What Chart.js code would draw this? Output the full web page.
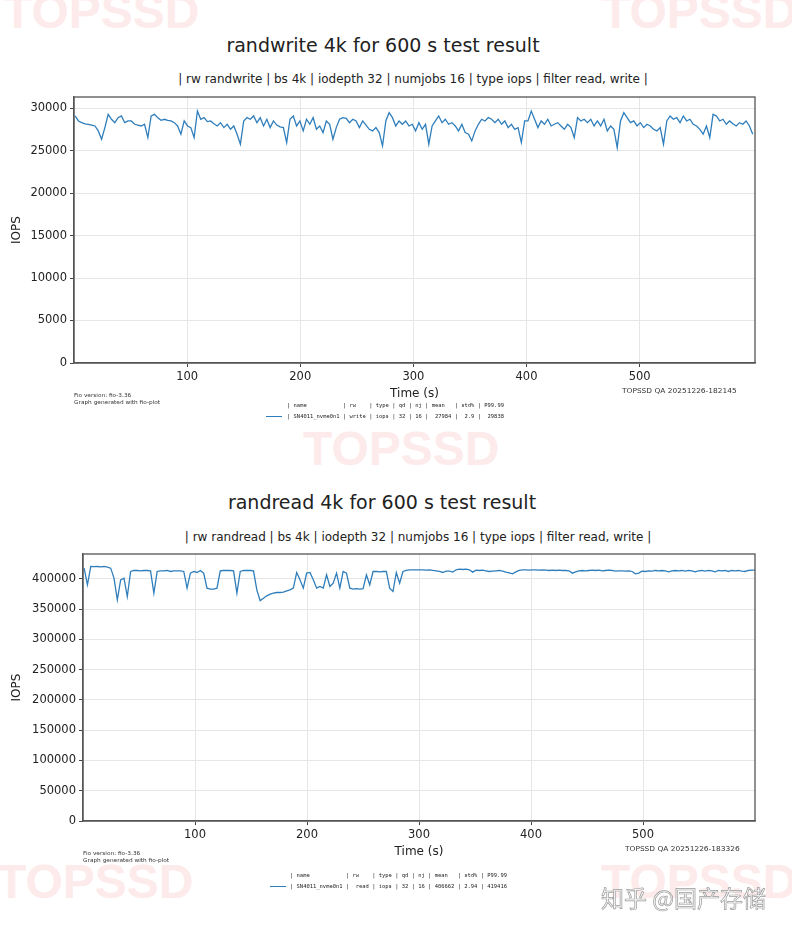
<!DOCTYPE html>
<html>
<head>
<meta charset="utf-8">
<script src="https://cdn.jsdelivr.net/npm/chart.js@4"></script>
<style>
  body { margin: 0; background: #fff; width: 792px; height: 931px; overflow: hidden; position: relative; font-family: "DejaVu Sans", sans-serif; color: #222; }
  .wm { position: absolute; font-family: "Liberation Sans", sans-serif; font-weight: bold; font-size: 48px; line-height: 1; color: #fdebeb; }
  .title { position: absolute; font-size: 19px; transform: translate(-50%, -50%); white-space: pre; }
  .sub { position: absolute; font-size: 12px; transform: translate(-50%, -50%); white-space: pre; }
  .tiny { position: absolute; white-space: pre; font-size: 10px; line-height: 12px; transform: scale(0.58); transform-origin: 0 0; color: #333; }
  .stamp { position: absolute; white-space: pre; font-size: 12px; transform: scale(0.62); transform-origin: 0 0; color: #333; }
  .leg { position: absolute; white-space: pre; font-family: "DejaVu Sans Mono", monospace; font-size: 10px; line-height: 20px; transform: scale(0.546); transform-origin: 0 0; color: #222; }
  .dash { position: absolute; height: 1.4px; width: 16px; background: #2f7ebc; }
  canvas { position: absolute; left: 0; }
  .zh { position: absolute; font-family: "Noto Sans CJK SC", sans-serif; font-size: 23px; color: #fafafa; -webkit-text-stroke: 0.7px #9a9a9a; white-space: pre; }
</style>
</head>
<body>
<div class="wm" style="left:3px; top:-12px;">TOPSSD</div>
<div class="wm" style="left:601px; top:-12px;">TOPSSD</div>
<div class="wm" style="left:303px; top:425px;">TOPSSD</div>
<div class="wm" style="left:-3px; top:858px;">TOPSSD</div>
<div class="wm" style="left:601px; top:858px;">TOPSSD</div>

<div class="title" style="left:383px; top:45px;">randwrite 4k for 600 s test result</div>
<div class="sub" style="left:413px; top:79px;">| rw randwrite | bs 4k | iodepth 32 | numjobs 16 | type iops | filter read, write |</div>
<canvas id="graficoEscrita" width="792" height="320" style="top:90px;"></canvas>
<div class="tiny" style="left:74px; top:392px;">Fio version: fio-3.36
Graph generated with fio-plot</div>
<div class="stamp" style="left:622px; top:386px;">TOPSSD QA 20251226-182145</div>
<div class="dash" style="left:266px; top:415.5px;"></div>
<div class="leg" style="left:287px; top:400px;">| name           | rw    | type | qd | nj | mean   | std% | P99.99
| SN4011_nvme0n1 | write | iops | 32 | 16 |  27984 |  2.9 |  29838</div>

<div class="title" style="left:382px; top:502px;">randread 4k for 600 s test result</div>
<div class="sub" style="left:418px; top:537px;">| rw randread | bs 4k | iodepth 32 | numjobs 16 | type iops | filter read, write |</div>
<canvas id="graficoLeitura" width="792" height="320" style="top:548px;"></canvas>
<div class="tiny" style="left:83px; top:850px;">Fio version: fio-3.36
Graph generated with fio-plot</div>
<div class="stamp" style="left:625px; top:844px;">TOPSSD QA 20251226-183326</div>
<div class="dash" style="left:270px; top:885.5px;"></div>
<div class="leg" style="left:290px; top:870px;">| name           | rw    | type | qd | nj | mean   | std% | P99.99
| SN4011_nvme0n1 |  read | iops | 32 | 16 | 406662 | 2.94 | 419416</div>

<div class="zh" style="left:601px; top:880px;">知乎 @国产存储</div>

<script>
// Leituras de IOPS (amostras a cada ~3 s)
const iopsEscrita = [
    29070, 28480, 28280, 28150, 28090, 28000, 27890, 27310, 26330, 27700,
    29260, 28680, 28280, 28870, 29070, 28280, 28480, 28480, 28090, 28000,
    27890, 28090, 26530, 29070, 29260, 28870, 28560, 28680, 28560, 28480,
    28280, 27890, 26920, 28480, 27890, 27700, 26530, 29650, 28680, 28870,
    28400, 28480, 28150, 27890, 28280, 27700, 28090, 27500, 27890, 26920,
    25750, 28480, 28870, 28680, 29070, 28280, 28870, 27890, 28680, 27700,
    28480, 28000, 27780, 27700, 25940, 28680, 29070, 27890,
    28480, 27310, 28680, 28090, 28870, 27500, 27890, 27110, 28480, 28090,
    26330, 27700, 28680, 28870, 28800, 28280, 28680, 28480, 27700, 28480,
    28000, 27500, 27310, 27700, 27110, 25550, 28480, 29460, 28870, 27890,
    28480, 28090, 28480, 27890, 28090, 27310, 28280, 27500, 28090, 25750,
    27890, 28480, 29070, 28280, 28680, 28090, 28280, 27890, 27310, 28090,
    27110, 26920, 26140, 27310, 28090, 28680, 28480, 28870, 28680, 28280,
    28680, 28090, 28480, 27700, 28090, 27500, 27700, 25940, 28480,
    28480, 29650, 28680, 27700, 28480, 28090, 28680, 27890, 28090, 28280,
    27890, 27500, 28090, 27700, 26530, 28870, 28480, 28680, 28280, 28680,
    27890, 28480, 27890, 28680, 27310, 27890, 27500, 25350, 28480, 29460,
    28870, 28280, 28480, 27890, 28280, 27700, 28090, 27890, 27500, 27310,
    27700, 25750, 28480, 29070, 28680, 28870, 28280, 29070, 28480, 28680,
    28090, 27890, 27500, 26920, 27890, 26530, 29260, 29070, 28480, 28680,
    28090, 28480, 28150, 27890, 28280, 28090, 28480, 27890, 26920
];

const iopsLeitura = [
    417630, 390080, 420380, 420000, 420380, 419800, 420380, 419300, 417630, 401100,
    365290, 398350, 401100, 370800, 412120, 413780, 413780, 413230, 413780, 413780,
    413230, 376310, 412120, 413230, 413230, 413780, 412120, 413230, 413230, 413230,
    412120, 384570, 409370, 412120, 410470, 413780, 409370, 384570, 382920, 382920,
    384570, 413230, 413780, 413780, 413780, 413230, 376310, 412120, 413780, 413780,
    413780, 413230, 381820, 364000, 368050, 371900, 374650, 376310, 377400, 377400,
    378000, 380200, 381820, 384570, 410470, 398350, 384570, 409370, 410470, 398350,
    384570, 387330, 384570, 406610, 387330, 392840, 409370, 384570, 412120, 409370,
    384570, 382920, 383800, 382920, 383800, 406610, 390080, 412120, 412120, 411570,
    412120, 412120, 384570, 379060, 410470, 392840, 412120, 413780, 414880, 414880,
    414880, 414880,
    414880, 414330, 414880, 413780, 413230, 412120, 410470, 412670, 412670, 411020,
    414880, 415980, 415430, 415980, 414880, 411020, 414330, 413780, 414330, 413230,
    412120, 412670, 413230, 413780, 412670, 411020, 409920, 408270, 411570, 413780,
    414880, 414880, 414330, 414880, 414880, 414330, 414880, 414330, 413780, 414330,
    413780, 414330, 413780, 413780, 413230, 409370, 411570, 413230, 413780, 413230,
    413780, 414330, 413780, 414330, 413230, 413780, 414330, 413780, 412670, 413230,
    413230, 412670, 413230, 412120, 408270, 409370, 412670, 412120, 413230, 412670,
    413780, 413230, 413780, 413230, 411570, 413230, 413780, 413230, 413780, 412670,
    413780, 413230, 411570, 413230, 413780, 412670, 413780, 413230, 411570, 413780,
    413230, 413780, 412120, 413780, 413230, 413780, 412670, 412120, 413780, 414330,
    414330
];

const ticksTempo = [100, 200, 300, 400, 500];
const ticksEscrita = [0, 5000, 10000, 15000, 20000, 25000, 30000];
const ticksLeitura = [0, 50000, 100000, 150000, 200000, 250000, 300000, 350000, 400000];

const COR_LINHA = '#2f7ebc';
const FONTE = 'DejaVu Sans';

// Instantes das amostras: de 1 s a 600 s
const tempos = (serie) => serie.map((_, i) => 1 + i * 599 / (serie.length - 1));

const pluginMoldura = {
    id: 'moldura',
    afterDraw(chart) {
        const { ctx, chartArea: a } = chart;
        ctx.save();
        ctx.strokeStyle = '#555';
        ctx.lineWidth = 1.3;
        ctx.strokeRect(a.left, a.top, a.right - a.left, a.bottom - a.top);
        ctx.restore();
    }
};

const criarGrafico = (id, valores, ticksY, maxY, maxX, larguraY, paddingTopo) => {
    const t = tempos(valores);
    const pontos = valores.map((v, i) => ({ x: t[i], y: v }));
    const ctx = document.getElementById(id).getContext('2d');
    return new Chart(ctx, {
        type: 'line',
        data: {
            datasets: [{
                data: pontos,
                borderColor: COR_LINHA,
                borderWidth: 1.3,
                pointRadius: 0,
                tension: 0,
                fill: false
            }]
        },
        options: {
            responsive: false,
            animation: false,
            devicePixelRatio: 1,
            layout: { padding: { top: paddingTopo, right: 37, left: 0, bottom: 0 } },
            plugins: { legend: { display: false }, tooltip: { enabled: false } },
            scales: {
                x: {
                    type: 'linear',
                    min: 0,
                    max: maxX,
                    afterBuildTicks: (s) => { s.ticks = ticksTempo.map(v => ({ value: v })); },
                    afterFit: (s) => { s.height = 47; s.paddingLeft = 0; s.paddingRight = 0; },
                    grid: { color: '#e6e6e6', lineWidth: 1, tickColor: '#444', tickLength: 4 },
                    border: { color: '#555', width: 1.3 },
                    ticks: { color: '#222', font: { family: FONTE, size: 11.5 }, padding: 3, maxRotation: 0 },
                    title: { display: true, text: 'Time (s)', color: '#222', font: { family: FONTE, size: 12 }, padding: { top: 0, bottom: 9 } }
                },
                y: {
                    min: 0,
                    max: maxY,
                    afterBuildTicks: (s) => { s.ticks = ticksY.map(v => ({ value: v })); },
                    afterFit: (s) => { s.width = larguraY; s.paddingTop = 0; s.paddingBottom = 0; },
                    grid: { color: '#e6e6e6', lineWidth: 1, tickColor: '#444', tickLength: 4 },
                    border: { color: '#555', width: 1.3 },
                    ticks: { color: '#222', font: { family: FONTE, size: 11.5 }, padding: 3, callback: (v) => String(v) },
                    title: { display: true, text: 'IOPS', color: '#222', font: { family: FONTE, size: 12 }, padding: { top: 10, bottom: 0 } }
                }
            }
        },
        plugins: [pluginMoldura]
    });
};

criarGrafico('graficoEscrita', iopsEscrita, ticksEscrita, 31300, 602, 74, 7);
criarGrafico('graficoLeitura', iopsLeitura, ticksLeitura, 441000, 600, 83, 6);
</script>
</body>
</html>
